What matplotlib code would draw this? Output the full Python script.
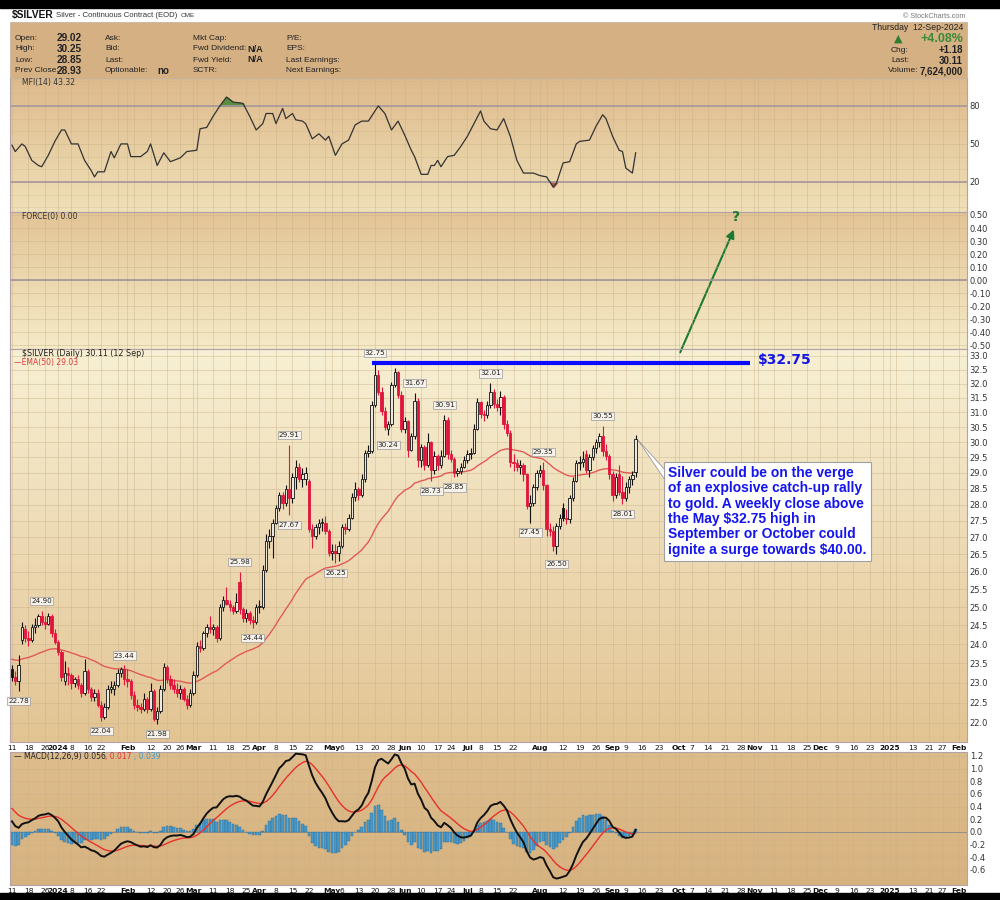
import matplotlib
matplotlib.use("Agg")
import matplotlib.pyplot as plt
import numpy as np
import pandas as pd
from matplotlib.patches import Rectangle, FancyArrowPatch, Polygon
from matplotlib.ticker import NullLocator

# ---- data ----
opens = [23.35, 23.15, 23.05, 24.10, 24.40, 24.15, 24.10, 24.45, 24.50, 24.75, 24.60, 24.55, 24.75, 24.30,
         24.05, 23.80, 23.05, 23.25, 23.20, 23.00, 23.10, 22.95, 22.75, 23.30, 22.85, 22.65, 22.75, 22.45,
         22.15, 22.40, 22.85, 22.85, 22.95, 23.25, 23.35,
         23.10, 23.05, 22.70, 22.45, 22.40, 22.35, 22.60, 22.35, 22.80, 22.10, 22.30, 22.85, 23.40, 23.10,
         22.95, 22.85, 22.75, 22.85, 22.60, 22.45,
         22.75, 23.20, 23.95, 23.90, 24.30, 24.45, 24.40, 24.45, 24.15, 25.00, 25.20, 25.10, 25.00, 24.90,
         25.70, 24.95, 24.70, 24.85, 24.65, 24.60,
         25.00, 25.00, 26.05, 26.90, 27.05, 27.45, 27.90, 28.30, 28.05, 28.50, 28.20, 28.85, 29.20, 28.80,
         28.80, 28.75, 27.25, 27.05, 27.30, 27.45, 27.45, 27.20,
         26.55, 26.60, 26.55, 26.75, 27.30, 27.25, 27.60, 28.25, 28.50, 28.30, 28.80, 29.65, 29.70, 31.25,
         32.30, 31.70, 31.05, 30.45, 30.60, 31.95, 32.40, 31.60,
         30.45, 30.70, 29.75, 30.20, 31.40, 29.40, 29.85, 29.25, 30.00, 29.10, 29.55, 29.25, 29.55, 30.75,
         29.60, 29.45, 29.00, 29.05, 29.20,
         29.40, 29.60, 29.65, 30.45, 31.35, 30.95, 30.90, 31.25, 31.70, 31.30, 31.20, 31.55, 30.60, 30.30,
         29.35, 29.30, 29.20, 29.25, 28.95, 27.95, 28.05, 28.55,
         29.00, 29.10, 28.60, 27.25, 27.20, 26.75, 27.35, 27.90, 27.60, 27.55, 28.20, 28.75, 29.30, 29.35,
         29.60, 29.10, 29.50, 29.80, 30.00, 30.20, 29.70, 29.55,
         28.95, 28.30, 28.95, 28.40, 28.20, 28.55, 28.80, 29.02]
highs = [23.45, 23.30, 23.70, 24.60, 24.50, 24.35, 24.55, 24.70, 24.80, 24.90, 24.75, 24.85, 24.80, 24.40,
         24.10, 23.85, 23.55, 23.40, 23.25, 23.15, 23.20, 23.00, 23.60, 23.35, 22.90, 22.85, 22.85, 22.55,
         22.50, 22.95, 23.05, 23.05, 23.35, 23.40, 23.44,
         23.35, 23.10, 22.80, 22.60, 22.50, 22.75, 22.65, 23.00, 22.85, 22.40, 22.95, 23.50, 23.45, 23.20,
         23.10, 23.00, 22.95, 22.90, 22.70, 22.85,
         23.30, 24.05, 24.10, 24.35, 24.55, 24.75, 24.55, 24.50, 25.10, 25.30, 25.55, 25.20, 25.05, 25.40,
         25.98, 25.00, 24.95, 24.90, 24.75, 25.10,
         25.20, 26.20, 27.10, 27.25, 27.55, 28.00, 28.40, 28.40, 28.60, 29.91, 29.00, 29.40, 29.30, 29.15,
         29.20, 28.80, 27.40, 27.40, 27.55, 27.60, 27.65, 27.25,
         26.80, 26.80, 26.90, 27.40, 27.45, 27.70, 28.35, 28.70, 28.55, 28.95, 29.75, 29.90, 31.40, 32.75,
         32.50, 31.90, 31.20, 30.70, 32.05, 32.55, 32.45, 31.75,
         30.85, 30.75, 30.30, 31.67, 31.50, 29.95, 29.90, 30.30, 30.05, 29.70, 29.60, 29.75, 30.91, 30.85,
         29.75, 29.50, 29.15, 29.30, 29.55,
         29.75, 29.80, 30.60, 31.50, 31.40, 31.10, 31.40, 32.01, 31.80, 31.45, 31.75, 31.60, 30.75, 30.40,
         29.60, 29.45, 29.40, 29.30, 29.00, 28.30, 28.65, 29.10,
         29.25, 29.35, 28.65, 27.45, 27.35, 27.45, 27.70, 28.05, 27.85, 28.30, 28.85, 29.40, 29.55, 29.70,
         29.75, 29.60, 29.90, 30.10, 30.30, 30.55, 29.95, 29.60,
         29.05, 29.00, 29.25, 28.90, 28.70, 28.90, 29.05, 30.25]
lows = [23.05, 22.95, 22.78, 24.00, 24.05, 23.95, 24.05, 24.30, 24.45, 24.50, 24.40, 24.50, 24.20, 24.00,
        23.70, 23.05, 22.95, 22.95, 22.85, 22.90, 22.85, 22.65, 22.70, 22.75, 22.55, 22.55, 22.40, 22.04,
        22.10, 22.35, 22.75, 22.70, 22.90, 23.15, 22.95,
        22.90, 22.60, 22.35, 22.30, 22.25, 22.30, 22.25, 22.30, 22.05, 21.98, 22.25, 22.80, 23.00, 22.85,
        22.75, 22.65, 22.60, 22.55, 22.35, 22.40,
        22.70, 23.15, 23.80, 23.85, 24.20, 24.30, 24.25, 24.05, 24.10, 24.90, 25.05, 24.90, 24.80, 24.85,
        24.80, 24.60, 24.60, 24.55, 24.44, 24.55,
        24.85, 24.95, 26.00, 26.70, 26.40, 27.40, 27.80, 27.85, 27.95, 27.67, 28.05, 28.50, 28.70, 28.55,
        28.60, 27.15, 26.70, 26.95, 27.10, 27.20, 27.10, 26.45,
        26.35, 26.25, 26.30, 26.70, 27.10, 27.20, 27.55, 28.10, 28.15, 28.25, 28.70, 29.50, 29.65, 31.20,
        31.60, 30.90, 30.40, 30.24, 30.55, 31.90, 31.50, 30.35,
        30.30, 29.50, 29.70, 30.10, 29.20, 29.20, 29.10, 29.20, 28.73, 28.95, 29.10, 29.15, 29.50, 29.45,
        29.35, 28.85, 28.90, 28.95, 29.15,
        29.30, 29.45, 29.60, 30.40, 30.80, 30.70, 30.80, 31.15, 31.15, 31.05, 30.90, 30.45, 30.20, 29.20,
        29.05, 29.05, 28.95, 28.75, 27.85, 27.45, 27.95, 28.45,
        28.85, 28.45, 27.05, 27.05, 26.60, 26.50, 27.25, 27.50, 27.40, 27.45, 28.10, 28.70, 29.10, 29.20,
        29.00, 28.85, 29.40, 29.65, 29.85, 29.55, 29.40, 28.80,
        28.10, 28.20, 28.30, 28.01, 28.10, 28.35, 28.60, 28.85]
closes = [23.15, 23.05, 23.45, 24.45, 24.15, 24.10, 24.45, 24.50, 24.75, 24.60, 24.55, 24.75, 24.30, 24.05,
          23.80, 23.15, 23.25, 23.20, 23.00, 23.10, 22.95, 22.75, 23.30, 22.85, 22.65, 22.75, 22.45, 22.15,
          22.40, 22.85, 22.85, 22.95, 23.25, 23.35, 23.10,
          23.05, 22.70, 22.45, 22.40, 22.35, 22.60, 22.35, 22.80, 22.10, 22.30, 22.85, 23.40, 23.10, 22.95,
          22.85, 22.75, 22.85, 22.60, 22.45, 22.75,
          23.20, 23.95, 23.90, 24.30, 24.45, 24.40, 24.45, 24.15, 25.00, 25.20, 25.10, 25.00, 24.90, 25.15,
          24.95, 24.70, 24.85, 24.65, 24.60, 25.00,
          25.00, 26.05, 26.90, 27.05, 27.45, 27.90, 28.30, 28.05, 28.50, 28.20, 28.85, 29.20, 28.80, 28.95,
          29.00, 27.25, 27.05, 27.30, 27.45, 27.45, 27.20, 26.55,
          26.60, 26.55, 26.75, 27.30, 27.25, 27.60, 28.25, 28.50, 28.30, 28.80, 29.65, 29.70, 31.25, 32.30,
          31.70, 31.05, 30.50, 30.60, 31.95, 32.40, 31.60, 30.45,
          30.70, 29.75, 30.20, 31.40, 29.40, 29.85, 29.25, 30.00, 29.10, 29.55, 29.25, 29.55, 30.75, 29.60,
          29.45, 29.00, 29.05, 29.20, 29.40,
          29.60, 29.65, 30.45, 31.35, 30.95, 30.90, 31.25, 31.70, 31.30, 31.20, 31.55, 30.60, 30.30, 29.35,
          29.30, 29.20, 29.25, 28.95, 27.95, 28.05, 28.55, 29.00,
          29.10, 28.60, 27.25, 27.20, 26.75, 27.35, 27.60, 27.60, 27.55, 28.20, 28.75, 29.30, 29.35, 29.45,
          29.10, 29.50, 29.80, 30.00, 30.20, 29.70, 29.55, 28.95,
          28.30, 28.85, 28.40, 28.20, 28.55, 28.80, 28.93, 30.11]

# MFI(14) line vertices: trading-day index and value
mfi_days = [0, 1, 3, 4, 6, 8, 9, 11, 13, 15, 16, 18, 20, 22, 24, 25, 26, 28, 30, 31, 33, 35, 36, 39, 41,
            42, 44, 46, 48, 51, 53, 56, 57, 59, 61, 63, 65, 67, 70, 72, 74, 76, 77, 79, 80, 82, 83, 85,
            86, 88, 89, 91, 93, 95, 96, 98, 100, 102, 104, 106, 108, 110, 111, 113, 115, 117, 119, 121,
            122, 124, 126, 127, 128, 129, 130, 132, 134, 136, 138, 140, 142, 143, 145, 147, 149, 151,
            153, 155, 158, 160, 162, 164, 165, 167, 169, 171, 172, 175, 177, 179, 180, 182, 184, 185,
            186, 188, 189]
mfi_vals = [49, 44, 50, 48, 37, 33, 32, 41, 52, 61, 61, 50, 50, 37, 29, 24, 28, 28, 44, 39, 50, 50, 40,
            40, 44, 50, 33, 43, 36, 39, 44, 45, 62, 63, 72, 80, 87, 83, 82, 72, 61, 66, 74, 74, 66, 78,
            70, 74, 69, 68, 66, 54, 58, 53, 56, 41, 50, 53, 65, 68, 68, 76, 80, 74, 61, 68, 57, 45, 40,
            26, 26, 33, 33, 37, 32, 40, 41, 48, 56, 66, 76, 68, 62, 61, 70, 56, 37, 27, 27, 25, 24, 16,
            19, 35, 36, 50, 52, 53, 64, 73, 70, 56, 45, 44, 31, 27, 43]

# labelled swing highs / lows (trading-day index)
high_label_days = [9, 34, 69, 84, 110, 122, 131, 145, 161, 179]
low_label_days = [2, 27, 44, 73, 84, 98, 114, 127, 134, 157, 165, 185]

ema50_start = 23.62            # EMA(50) value on the first bar
macd_fast_start = 23.95        # EMA(12) on the first bar
macd_slow_start = 23.70        # EMA(26) on the first bar
macd_signal_start = 0.42

holidays = ["2023-12-25", "2024-01-01", "2024-01-15", "2024-02-19", "2024-03-29", "2024-05-27",
            "2024-06-19", "2024-07-04", "2024-09-02", "2024-11-28", "2024-12-25", "2025-01-01",
            "2025-01-20"]


def ema(values, span, start):
    k = 2.0 / (span + 1)
    out = []
    e = start
    for v in values:
        e = e + k * (v - e)
        out.append(e)
    return np.array(out)


n = len(closes)
xs = np.arange(n)
o = np.array(opens); h = np.array(highs); l = np.array(lows); c = np.array(closes)
ema50 = ema(c, 50, ema50_start)
macd = ema(c, 12, macd_fast_start) - ema(c, 26, macd_slow_start)
signal = ema(macd, 9, macd_signal_start)
hist = macd - signal

XMIN, XMAX = -0.6, 289.4

# trading calendar incl. future space
cal = pd.offsets.CustomBusinessDay(holidays=pd.to_datetime(holidays))
dates = pd.date_range("2023-12-11", "2025-02-07", freq=cal)

month_idx = [i for i in range(1, len(dates)) if dates[i].month != dates[i - 1].month]
week_idx = [0] + [i for i in range(1, len(dates))
                  if dates[i].isocalendar()[1] != dates[i - 1].isocalendar()[1]]
tick_pos, tick_lab, tick_bold = [], [], []
for i in sorted(set(month_idx) | set(week_idx)):
    if i > XMAX:
        continue
    if i in month_idx:
        d = dates[i]
        tick_pos.append(i); tick_bold.append(True)
        tick_lab.append(str(d.year) if d.month == 1 else d.strftime("%b"))
    else:
        near = any(0 < m - i <= 3 or 0 <= i - m <= 2 for m in month_idx)
        tick_pos.append(i); tick_bold.append(False)
        tick_lab.append("" if near else str(dates[i].day))

GRID = "#c9b187"
HF = "Liberation Sans"

fig = plt.figure(figsize=(10, 9), dpi=100)
fig.patch.set_facecolor("white")


def fy(p):
    return 1 - p / 900.0


def T(x, y, s, **kw):
    kw.setdefault("va", "center")
    kw.setdefault("fontsize", 6)
    return fig.text(x / 1000.0, fy(y), s, **kw)


def panel(rect, top, bottom):
    bg = fig.add_axes(rect, zorder=0)
    bg.axis("off")
    g = np.linspace(0, 1, 64)[:, None]
    cols = np.array(top) * (1 - g) + np.array(bottom) * g
    bg.imshow(cols[:, None, :], aspect="auto", extent=[0, 1, 0, 1])
    ax = fig.add_axes(rect, zorder=1)
    ax.set_facecolor("none")
    ax.set_xticks(tick_pos)
    ax.set_xlim(XMIN, XMAX)
    ax.tick_params(axis="x", length=0, labelbottom=False)
    ax.yaxis.tick_right()
    ax.tick_params(axis="y", length=0, labelsize=6, pad=2, colors="#333333")
    ax.grid(True, color=GRID, lw=0.5, alpha=0.6)
    ax.set_axisbelow(True)
    for s in ax.spines.values():
        s.set_color("#b4a2a8")
        s.set_linewidth(0.8)
    return ax


L0, W0 = 0.010, 0.957
ax_mfi = panel([L0, fy(212), W0, 134 / 900], (0.87, 0.73, 0.55), (0.94, 0.88, 0.72))
ax_frc = panel([L0, fy(349), W0, 137 / 900], (0.89, 0.77, 0.59), (0.96, 0.92, 0.78))
ax_px = panel([L0, fy(742), W0, 393 / 900], (0.97, 0.94, 0.83), (0.89, 0.77, 0.58))
ax_macd = panel([L0, fy(885), W0, 133 / 900], (0.87, 0.74, 0.55), (0.84, 0.70, 0.50))

# ---- MFI ----
ax_mfi.set_ylim(-3.7, 102)
ax_mfi.set_yticks([20, 50, 80], labels=["20", "50", "80"])
ax_mfi.set_yticks(np.arange(0, 101, 10), minor=True)
ax_mfi.grid(True, which="minor", axis="y", color=GRID, lw=0.4, alpha=0.5)
ax_mfi.yaxis.set_tick_params(which="minor", length=0)
ax_mfi.axhline(80, color="#a8969c", lw=1.2)
ax_mfi.axhline(20, color="#a8969c", lw=1.2)
mv = np.array(mfi_vals, dtype=float)
ax_mfi.fill_between(mfi_days, mv, 80, where=mv > 80, interpolate=True, color="#4f8a3a", alpha=0.9)
ax_mfi.fill_between(mfi_days, mv, 20, where=mv < 20, interpolate=True, color="#b0504a", alpha=0.9)
ax_mfi.plot(mfi_days, mv, color="#333333", lw=0.9)

# ---- Force (flat) ----
ax_frc.set_ylim(-0.53, 0.523)
fticks = np.round(np.arange(-0.5, 0.51, 0.1), 2) + 0.0
ax_frc.set_yticks(fticks, labels=["%.2f" % (v + 0.0) for v in fticks])
ax_frc.axhline(0, color="#a0949a", lw=1.2)

# ---- Price ----
ax_px.set_yscale("log")
ax_px.set_ylim(21.54, 33.25)
pticks = np.arange(22.0, 33.01, 0.5)
ax_px.set_yticks(pticks, labels=["%.1f" % v for v in pticks])
ax_px.yaxis.set_minor_locator(NullLocator())
RED = "#e0163c"
prev = np.concatenate([[c[0]], c[:-1]])
col = np.where(c >= prev, "#111111", RED)
ax_px.vlines(xs, l, h, colors=col, lw=0.8, zorder=3)
bot = np.minimum(o, c)
hgt = np.maximum(np.abs(c - o), 0.03)
face = [cc if oo > cc2 else "#ece8dc" for cc, oo, cc2 in zip(col, o, c)]
ax_px.bar(xs, hgt, bottom=bot, width=0.72, color=face, edgecolor=col, lw=0.6, zorder=4)
ax_px.plot(xs, ema50, color="#e25a58", lw=1.0, zorder=2)

for d in high_label_days:
    ax_px.annotate("%.2f" % h[d], (d, h[d]), xytext=(0, 5), textcoords="offset points",
                   ha="center", va="bottom", fontsize=5.2, color="#222222", zorder=6,
                   bbox=dict(boxstyle="square,pad=0.15", fc="#f6f2ea", ec="#9a9a9a", lw=0.5))
for d in low_label_days:
    ax_px.annotate("%.2f" % l[d], (d, l[d]), xytext=(0, -5), textcoords="offset points",
                   ha="center", va="top", fontsize=5.2, color="#222222", zorder=6,
                   bbox=dict(boxstyle="square,pad=0.15", fc="#f6f2ea", ec="#9a9a9a", lw=0.5))

# resistance line
ax_px.hlines(32.75, 109.2, 223.6, color="#0a0aff", lw=3, zorder=5)

# ---- MACD ----
ax_macd.set_ylim(-0.837, 1.263)
mticks = np.round(np.arange(-0.6, 1.21, 0.2), 1) + 0.0
ax_macd.set_yticks(mticks, labels=["%.1f" % (v + 0.0) for v in mticks])
ax_macd.bar(xs, hist, width=0.8, color="#4a98c6", edgecolor="#2f6f98", lw=0.3, zorder=2)
ax_macd.axhline(0, color="#8a8a8a", lw=0.6, zorder=1)
ax_macd.plot(xs, signal, color="#e8302a", lw=1.0, zorder=3)
ax_macd.plot(xs, macd, color="#111111", lw=1.4, zorder=4)

# x labels under price and MACD panels
for ax in (ax_px, ax_macd):
    ax.set_xticks(tick_pos, labels=tick_lab)
    ax.set_xlim(XMIN, XMAX)
    ax.tick_params(axis="x", length=0, labelbottom=True, labelsize=5.4, pad=2, colors="#111111")
    for t, b in zip(ax.get_xticklabels(), tick_bold):
        if b:
            t.set_fontweight("bold")
for ax in (ax_mfi, ax_frc):
    ax.set_xlim(XMIN, XMAX)

# ---- frame / header ----
fig.patches.append(Rectangle((0, fy(8)), 1, 8 / 900, transform=fig.transFigure, color="black"))
fig.patches.append(Rectangle((0, 0), 1, 7 / 900, transform=fig.transFigure, color="black"))
fig.patches.append(Rectangle((L0, fy(78)), W0, 56 / 900, transform=fig.transFigure,
                             fc="#d5b083", ec="#c8b4a0", lw=0.6))

T(12, 15, "$SILVER", fontsize=7.4, fontweight="bold", color="#111111", family=HF)
T(56, 15.5, "Silver - Continuous Contract (EOD)", fontsize=5.6, color="#333333", family=HF)
T(181, 15.5, "CME", fontsize=4.6, color="#333333", family=HF)
T(965, 16, "© StockCharts.com", fontsize=5.2, color="#777777", ha="right", family=HF)

rows = [38, 49, 60, 71]
for y, a, b in zip(rows, ["Open:", "High:", "Low:", "Prev Close:"], ["29.02", "30.25", "28.85", "28.93"]):
    T(15, y, a, fontsize=6.0, color="#222222", family=HF)
    T(57, y, b, fontsize=7.2, fontweight="bold", color="#222222", family=HF)
for y, a in zip(rows, ["Ask:", "Bid:", "Last:", "Optionable:"]):
    T(105, y, a, fontsize=6.0, color="#222222", family=HF)
T(157, 71, "no", fontsize=7.0, fontweight="bold", color="#222222", family=HF)
for y, a in zip(rows, ["Mkt Cap:", "Fwd Dividend:", "Fwd Yield:", "SCTR:"]):
    T(193, y, a, fontsize=6.0, color="#222222", family=HF)
T(247, 49, "N/A", fontsize=6.6, fontweight="bold", color="#222222", family=HF)
T(247, 60, "N/A", fontsize=6.6, fontweight="bold", color="#222222", family=HF)
for y, a in zip(rows, ["P/E:", "EPS:", "Last Earnings:", "Next Earnings:"]):
    T(286, y, a, fontsize=6.0, color="#222222", family=HF)

T(963, 27, "Thursday  12-Sep-2024", fontsize=6.2, color="#222222", ha="right", family=HF)
T(898, 39, "▲", fontsize=8, color="#2e7d32", ha="center")
T(963, 39, "+4.08%", fontsize=9, fontweight="bold", color="#3a8a3a", ha="right", family=HF)
T(891, 50, "Chg:", fontsize=6.0, color="#222222", family=HF)
T(963, 50, "+1.18", fontsize=7.0, fontweight="bold", color="#222222", ha="right", family=HF)
T(891, 61, "Last:", fontsize=6.0, color="#222222", family=HF)
T(963, 61, "30.11", fontsize=7.0, fontweight="bold", color="#222222", ha="right", family=HF)
T(888, 71, "Volume:", fontsize=6.0, color="#222222", family=HF)
T(963, 71, "7,624,000", fontsize=7.0, fontweight="bold", color="#222222", ha="right", family=HF)

# panel captions
T(22, 82, "MFI(14) 43.32", fontsize=5.5, color="#333333")
T(22, 217, "FORCE(0) 0.00", fontsize=5.5, color="#333333")
T(22, 354, "$SILVER (Daily) 30.11 (12 Sep)", fontsize=5.8, color="#222222")
T(14, 362, "—EMA(50) 29.03", fontsize=5.5, color="#e03a3a")
T(14, 757, "— MACD(12,26,9) 0.056", fontsize=5.5, color="#222222")
T(105, 757, ", 0.017", fontsize=5.5, color="#e03030")
T(134, 757, ", 0.039", fontsize=5.5, color="#3a9ad0")

# annotations
T(758, 360, "$32.75", fontsize=10, fontweight="bold", color="#1414e6")
fig.add_artist(FancyArrowPatch((0.679, fy(355)), (0.735, fy(227)), transform=fig.transFigure,
                               arrowstyle="-|>", mutation_scale=12, color="#1d7a34", lw=1.5))
T(736, 217, "?", fontsize=10, fontweight="bold", color="#1d7a34", ha="center")

fig.patches.append(Polygon([(0.638, fy(440)), (0.665, fy(470)), (0.665, fy(480))], closed=True,
                           transform=fig.transFigure, fc="white", ec="#9a9a9a", lw=0.6, zorder=5))
T(668, 466, "Silver could be on the verge\nof an explosive catch-up rally\nto gold. A weekly close above\n"
            "the May $32.75 high in\nSeptember or October could\nignite a surge towards $40.00.",
  va="top", fontsize=10, fontweight="bold", color="#1414f0", family=HF, linespacing=1.12,
  bbox=dict(boxstyle="square,pad=0.3", fc="white", ec="#a0a0a0", lw=0.8), zorder=6)

fig.savefig("out.png", dpi=100, facecolor="white")
